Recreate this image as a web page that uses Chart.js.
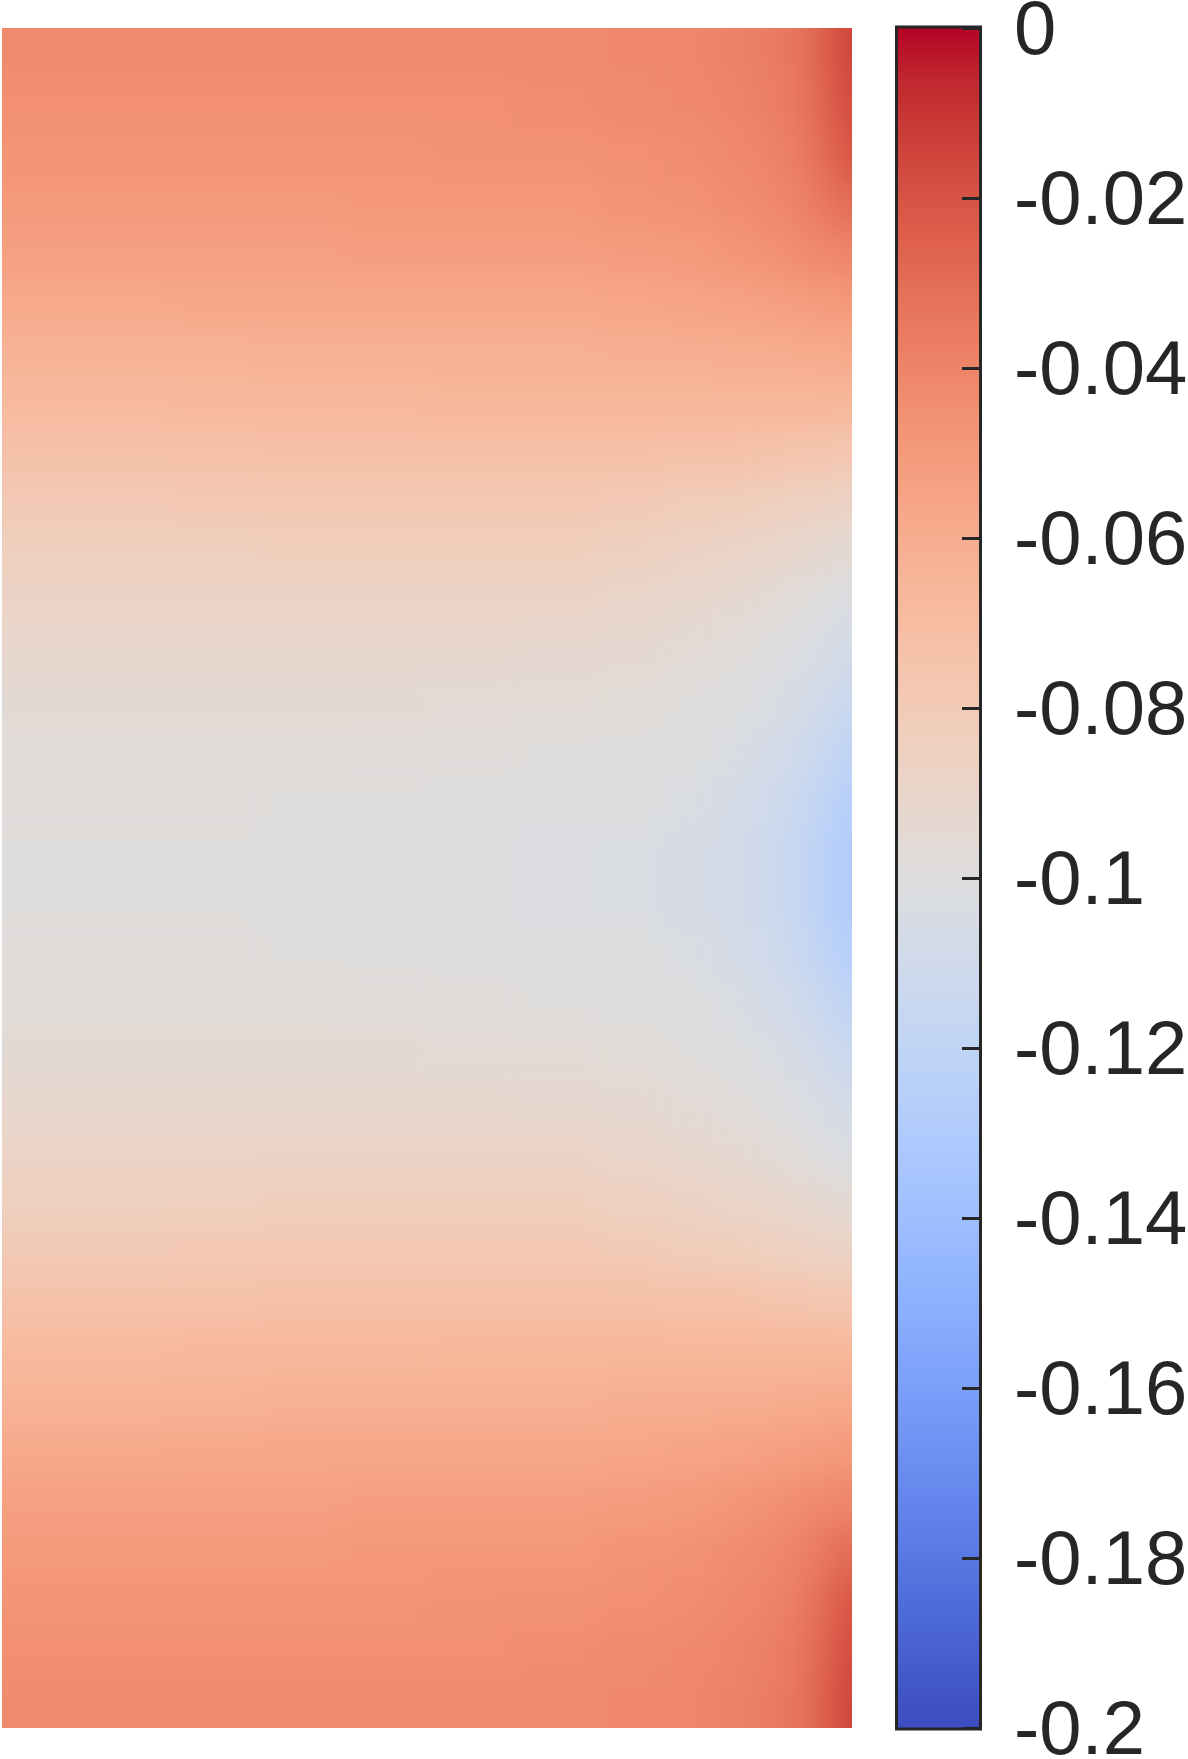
<!DOCTYPE html>
<html>
<head>
<meta charset="utf-8">
<script src="https://cdn.jsdelivr.net/npm/chart.js@4.4.1/dist/chart.umd.min.js"></script>
<style>
    html, body { margin: 0; padding: 0; background: #ffffff; }
    body { width: 1188px; height: 1759px; position: relative; overflow: hidden; }
    #fieldWrap { position: absolute; left: 0; top: 0; width: 880px; height: 1759px; }
    #barWrap { position: absolute; left: 880px; top: 0; width: 308px; height: 1759px; }
</style>
</head>
<body>
<div id="fieldWrap"><canvas id="fieldChart"></canvas></div>
<div id="barWrap"><canvas id="colorbarChart"></canvas></div>
<script>
// cell edges of the field (x across, y downwards from the top edge)
const xEdges = [0, 0.085, 0.17, 0.255, 0.34, 0.425, 0.51, 0.595, 0.66, 0.71, 0.75, 0.78, 0.805, 0.825, 0.84, 0.85];
const yEdges = [0, 0.05, 0.1, 0.15, 0.2, 0.25, 0.3, 0.35, 0.4, 0.45, 0.5, 0.55, 0.6, 0.65, 0.7, 0.75, 0.8, 0.85,
    0.9, 0.95, 1.0, 1.05, 1.1, 1.15, 1.2, 1.25, 1.3, 1.35, 1.4, 1.45, 1.5, 1.55, 1.6, 1.65, 1.7];

// field values, one row per y cell (top to bottom), one entry per x cell
const fieldValues = [
    [-0.043, -0.043, -0.043, -0.043, -0.043, -0.043, -0.043, -0.042, -0.041, -0.039, -0.037, -0.034, -0.028, -0.020, -0.014],
    [-0.045, -0.045, -0.045, -0.045, -0.045, -0.045, -0.044, -0.043, -0.042, -0.040, -0.038, -0.035, -0.030, -0.022, -0.016],
    [-0.047, -0.047, -0.047, -0.047, -0.047, -0.046, -0.046, -0.045, -0.044, -0.042, -0.040, -0.037, -0.032, -0.025, -0.020],
    [-0.050, -0.050, -0.050, -0.050, -0.049, -0.049, -0.049, -0.047, -0.046, -0.044, -0.042, -0.040, -0.036, -0.032, -0.029],
    [-0.053, -0.053, -0.053, -0.053, -0.052, -0.052, -0.052, -0.051, -0.050, -0.048, -0.046, -0.044, -0.042, -0.041, -0.040],
    [-0.058, -0.058, -0.057, -0.057, -0.057, -0.057, -0.057, -0.056, -0.055, -0.054, -0.053, -0.052, -0.051, -0.050, -0.049],
    [-0.063, -0.063, -0.063, -0.062, -0.062, -0.062, -0.062, -0.061, -0.061, -0.060, -0.060, -0.059, -0.059, -0.058, -0.058],
    [-0.068, -0.068, -0.067, -0.067, -0.067, -0.066, -0.066, -0.066, -0.066, -0.066, -0.066, -0.066, -0.066, -0.066, -0.066],
    [-0.073, -0.073, -0.073, -0.072, -0.072, -0.072, -0.072, -0.072, -0.073, -0.073, -0.074, -0.075, -0.076, -0.076, -0.077],
    [-0.079, -0.079, -0.078, -0.078, -0.078, -0.078, -0.078, -0.079, -0.081, -0.082, -0.084, -0.085, -0.086, -0.087, -0.087],
    [-0.084, -0.084, -0.084, -0.083, -0.083, -0.083, -0.083, -0.085, -0.087, -0.089, -0.090, -0.092, -0.093, -0.095, -0.096],
    [-0.088, -0.088, -0.088, -0.088, -0.088, -0.088, -0.088, -0.090, -0.092, -0.094, -0.096, -0.098, -0.100, -0.102, -0.103],
    [-0.092, -0.092, -0.092, -0.092, -0.092, -0.092, -0.093, -0.094, -0.096, -0.098, -0.100, -0.102, -0.104, -0.106, -0.108],
    [-0.095, -0.095, -0.095, -0.095, -0.095, -0.096, -0.096, -0.097, -0.099, -0.101, -0.103, -0.105, -0.109, -0.112, -0.115],
    [-0.097, -0.097, -0.097, -0.097, -0.098, -0.098, -0.099, -0.100, -0.101, -0.103, -0.107, -0.110, -0.114, -0.118, -0.121],
    [-0.098, -0.098, -0.098, -0.099, -0.099, -0.100, -0.100, -0.101, -0.103, -0.106, -0.110, -0.114, -0.119, -0.123, -0.127],
    [-0.099, -0.099, -0.099, -0.100, -0.100, -0.101, -0.102, -0.103, -0.105, -0.108, -0.112, -0.116, -0.121, -0.126, -0.130],
    [-0.099, -0.099, -0.099, -0.100, -0.100, -0.101, -0.102, -0.103, -0.105, -0.108, -0.112, -0.116, -0.121, -0.126, -0.130],
    [-0.098, -0.098, -0.098, -0.099, -0.099, -0.100, -0.100, -0.101, -0.103, -0.106, -0.110, -0.114, -0.119, -0.123, -0.127],
    [-0.097, -0.097, -0.097, -0.097, -0.098, -0.098, -0.099, -0.100, -0.101, -0.103, -0.107, -0.110, -0.114, -0.118, -0.121],
    [-0.095, -0.095, -0.095, -0.095, -0.095, -0.096, -0.096, -0.097, -0.099, -0.101, -0.103, -0.105, -0.109, -0.112, -0.115],
    [-0.092, -0.092, -0.092, -0.092, -0.092, -0.092, -0.093, -0.094, -0.096, -0.098, -0.100, -0.102, -0.104, -0.106, -0.108],
    [-0.088, -0.088, -0.088, -0.088, -0.088, -0.088, -0.088, -0.090, -0.092, -0.094, -0.096, -0.098, -0.100, -0.102, -0.103],
    [-0.084, -0.084, -0.084, -0.083, -0.083, -0.083, -0.083, -0.085, -0.087, -0.089, -0.090, -0.092, -0.093, -0.095, -0.096],
    [-0.079, -0.079, -0.078, -0.078, -0.078, -0.078, -0.078, -0.079, -0.081, -0.082, -0.084, -0.085, -0.086, -0.087, -0.087],
    [-0.073, -0.073, -0.073, -0.072, -0.072, -0.072, -0.072, -0.072, -0.073, -0.073, -0.074, -0.075, -0.076, -0.076, -0.077],
    [-0.068, -0.068, -0.067, -0.067, -0.067, -0.066, -0.066, -0.066, -0.066, -0.066, -0.066, -0.066, -0.066, -0.066, -0.066],
    [-0.063, -0.063, -0.063, -0.062, -0.062, -0.062, -0.062, -0.061, -0.061, -0.060, -0.060, -0.059, -0.059, -0.058, -0.058],
    [-0.058, -0.058, -0.057, -0.057, -0.057, -0.057, -0.057, -0.056, -0.055, -0.054, -0.053, -0.052, -0.051, -0.050, -0.049],
    [-0.053, -0.053, -0.053, -0.053, -0.052, -0.052, -0.052, -0.051, -0.050, -0.048, -0.046, -0.044, -0.042, -0.041, -0.040],
    [-0.050, -0.050, -0.050, -0.050, -0.049, -0.049, -0.049, -0.047, -0.046, -0.044, -0.042, -0.040, -0.036, -0.032, -0.029],
    [-0.047, -0.047, -0.047, -0.047, -0.047, -0.046, -0.046, -0.045, -0.044, -0.042, -0.040, -0.037, -0.032, -0.025, -0.020],
    [-0.045, -0.045, -0.045, -0.045, -0.045, -0.045, -0.044, -0.043, -0.042, -0.040, -0.038, -0.035, -0.030, -0.022, -0.016],
    [-0.043, -0.043, -0.043, -0.043, -0.043, -0.043, -0.043, -0.042, -0.041, -0.039, -0.037, -0.034, -0.028, -0.020, -0.014]
];

// colour scale range and tick step of the colorbar
const colorMin = -0.2;
const colorMax = 0;
const colorStep = 0.02;

// diverging blue-grey-red colour map, evenly spaced from colorMin to colorMax
const coolwarm = [
    [59, 76, 192], [68, 90, 204], [77, 104, 215], [87, 117, 225], [98, 130, 234], [108, 142, 241],
    [119, 154, 247], [130, 165, 251], [141, 176, 254], [152, 185, 255], [163, 194, 255], [174, 201, 253],
    [184, 208, 249], [194, 213, 244], [204, 217, 238], [213, 219, 230], [221, 221, 221], [229, 216, 209],
    [236, 211, 197], [241, 204, 185], [245, 196, 173], [247, 187, 160], [247, 177, 148], [247, 166, 135],
    [244, 154, 123], [241, 141, 111], [236, 127, 99], [229, 112, 88], [222, 96, 77], [213, 80, 66],
    [203, 62, 56], [192, 40, 47], [180, 4, 38]
];

const textColor = '#262626';
const fontFamily = '"Liberation Sans", Arial, Helvetica, sans-serif';

function colorFor(v) {
    let t = (v - colorMin) / (colorMax - colorMin);
    t = Math.min(1, Math.max(0, t)) * (coolwarm.length - 1);
    const i = Math.min(coolwarm.length - 2, Math.floor(t));
    const f = t - i;
    const a = coolwarm[i], b = coolwarm[i + 1];
    const rgb = a.map((c, k) => Math.round(c + (b[k] - c) * f));
    return 'rgb(' + rgb.join(',') + ')';
}

// paints the field cells through the chart's x/y scales, then softens the cell
// seams (the original plot uses interpolated shading)
const fieldPlugin = {
    id: 'fieldCells',
    beforeDatasetsDraw(chart) {
        const ctx = chart.ctx;
        const area = chart.chartArea;
        const x = chart.scales.x;
        const y = chart.scales.y;
        const pad = 100;
        const off = document.createElement('canvas');
        off.width = chart.width + 2 * pad;
        off.height = chart.height + 2 * pad;
        const o = off.getContext('2d');
        o.translate(pad, pad);
        const lastRow = fieldValues.length - 1;
        for (let r = 0; r <= lastRow; r++) {
            let top = Math.floor(y.getPixelForValue(yEdges[r]));
            let bottom = Math.ceil(y.getPixelForValue(yEdges[r + 1]));
            if (r === 0) top -= pad;
            if (r === lastRow) bottom += pad;
            const lastCol = fieldValues[r].length - 1;
            for (let c = 0; c <= lastCol; c++) {
                let left = Math.floor(x.getPixelForValue(xEdges[c]));
                let right = Math.ceil(x.getPixelForValue(xEdges[c + 1]));
                if (c === 0) left -= pad;
                if (c === lastCol) right += pad;
                o.fillStyle = colorFor(fieldValues[r][c]);
                o.fillRect(left, top, right - left, bottom - top);
            }
        }
        ctx.save();
        ctx.beginPath();
        ctx.rect(area.left, area.top, area.right - area.left, area.bottom - area.top);
        ctx.clip();
        ctx.filter = 'blur(16px)';
        ctx.drawImage(off, -pad, -pad);
        ctx.restore();
    }
};

// gradient bar, frame and inward tick marks of the colorbar
const colorbarPlugin = {
    id: 'colorbarBox',
    beforeDatasetsDraw(chart) {
        const ctx = chart.ctx;
        const area = chart.chartArea;
        const y = chart.scales.y;
        const g = ctx.createLinearGradient(0, y.getPixelForValue(colorMin), 0, y.getPixelForValue(colorMax));
        coolwarm.forEach((c, i) => g.addColorStop(i / (coolwarm.length - 1), 'rgb(' + c.join(',') + ')'));
        ctx.save();
        ctx.fillStyle = g;
        ctx.fillRect(area.left, area.top, area.right - area.left, area.bottom - area.top);
        ctx.restore();
    },
    afterDatasetsDraw(chart) {
        const ctx = chart.ctx;
        const area = chart.chartArea;
        const y = chart.scales.y;
        ctx.save();
        ctx.strokeStyle = textColor;
        ctx.lineWidth = 3;
        y.ticks.forEach(t => {
            const py = Math.round(y.getPixelForValue(t.value)) + 0.5;
            ctx.beginPath();
            ctx.moveTo(area.right - 20, py);
            ctx.lineTo(area.right - 2, py);
            ctx.stroke();
        });
        ctx.strokeRect(area.left + 1.5, area.top - 1, area.right - area.left - 3, area.bottom - area.top + 2);
        ctx.restore();
    }
};

new Chart(document.getElementById('fieldChart'), {
    type: 'scatter',
    data: { datasets: [{ data: [] }] },
    options: {
        responsive: true,
        maintainAspectRatio: false,
        animation: false,
        layout: { padding: { left: 2, top: 28, right: 28, bottom: 31 } },
        scales: {
            x: { type: 'linear', min: 0, max: 0.85, display: false },
            y: { type: 'linear', min: 0, max: 1.7, reverse: true, display: false }
        },
        plugins: { legend: { display: false }, tooltip: { enabled: false } }
    },
    plugins: [fieldPlugin]
});

new Chart(document.getElementById('colorbarChart'), {
    type: 'scatter',
    data: { datasets: [{ data: [] }] },
    options: {
        responsive: true,
        maintainAspectRatio: false,
        animation: false,
        layout: { padding: { left: 15, top: 28, right: 0, bottom: 31 } },
        scales: {
            x: { type: 'linear', min: 0, max: 1, display: false },
            y: {
                type: 'linear',
                position: 'right',
                min: colorMin,
                max: colorMax,
                grid: { display: false, drawTicks: false },
                border: { display: false },
                ticks: {
                    stepSize: colorStep,
                    padding: 32,
                    labelOffset: 5,
                    color: textColor,
                    autoSkip: false,
                    font: { family: fontFamily, size: 76 },
                    callback: v => String(Math.round(v * 100) / 100)
                },
                afterFit: scale => {
                    scale.width = 206;
                    scale.paddingTop = 0;
                    scale.paddingBottom = 0;
                }
            }
        },
        plugins: { legend: { display: false }, tooltip: { enabled: false } }
    },
    plugins: [colorbarPlugin]
});
</script>
</body>
</html>
